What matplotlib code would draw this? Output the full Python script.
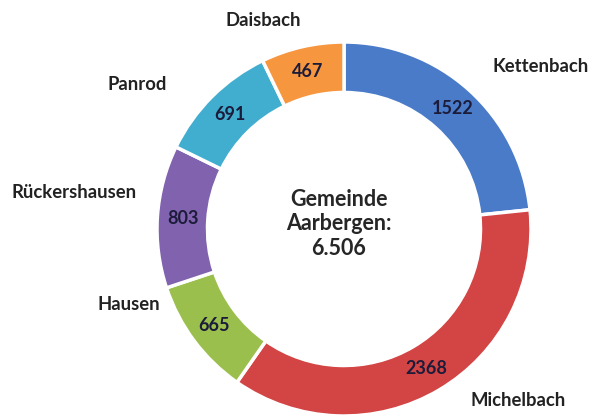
import matplotlib
matplotlib.use("Agg")
import matplotlib.pyplot as plt

# data, clockwise from the top
orte = ["Kettenbach", "Michelbach", "Hausen", "Rückershausen", "Panrod", "Daisbach"]
einwohner = [1522, 2368, 665, 803, 691, 467]
farben = ["#4A7BC9", "#D34444", "#9BBF4C", "#8062AE", "#41AECF", "#F6963F"]
mitte_text = "Gemeinde\nAarbergen:\n6.506"

# layout (pixels, top-left origin)
W, H = 596, 418
cx, cy, R = 344, 229, 187
name_xy = [(541, 67), (518, 400), (129, 304), (74, 192), (137, 85), (263, 20)]

plt.rcParams["font.family"] = ["Lato", "DejaVu Sans"]

fig = plt.figure(figsize=(W / 100, H / 100), dpi=100)
ax = fig.add_axes([0, 0, 1, 1])

wedges, _, autotexts = ax.pie(
    einwohner,
    colors=farben,
    startangle=90,
    counterclock=False,
    center=(cx, H - cy),
    radius=R,
    autopct=lambda p: f"{p * sum(einwohner) / 100:.0f}",
    pctdistance=0.865,
    wedgeprops=dict(width=R * 0.27, edgecolor="white", linewidth=2.5),
    textprops=dict(fontsize=13, fontweight="bold", color="#1c1c3a"),
)

for (x, y), name in zip(name_xy, orte):
    ax.text(x, H - y, name, ha="center", va="center",
            fontsize=13.3, fontweight="bold", color="#222222")

ax.text(cx - 5, H - cy + 5, mitte_text, ha="center", va="center",
        fontsize=15.5, fontweight="bold", color="#262626", linespacing=1.2)

ax.set_xlim(0, W)
ax.set_ylim(0, H)
ax.set_aspect("equal")
ax.axis("off")

fig.savefig("out.png", dpi=100, facecolor="white")
plt.close(fig)
